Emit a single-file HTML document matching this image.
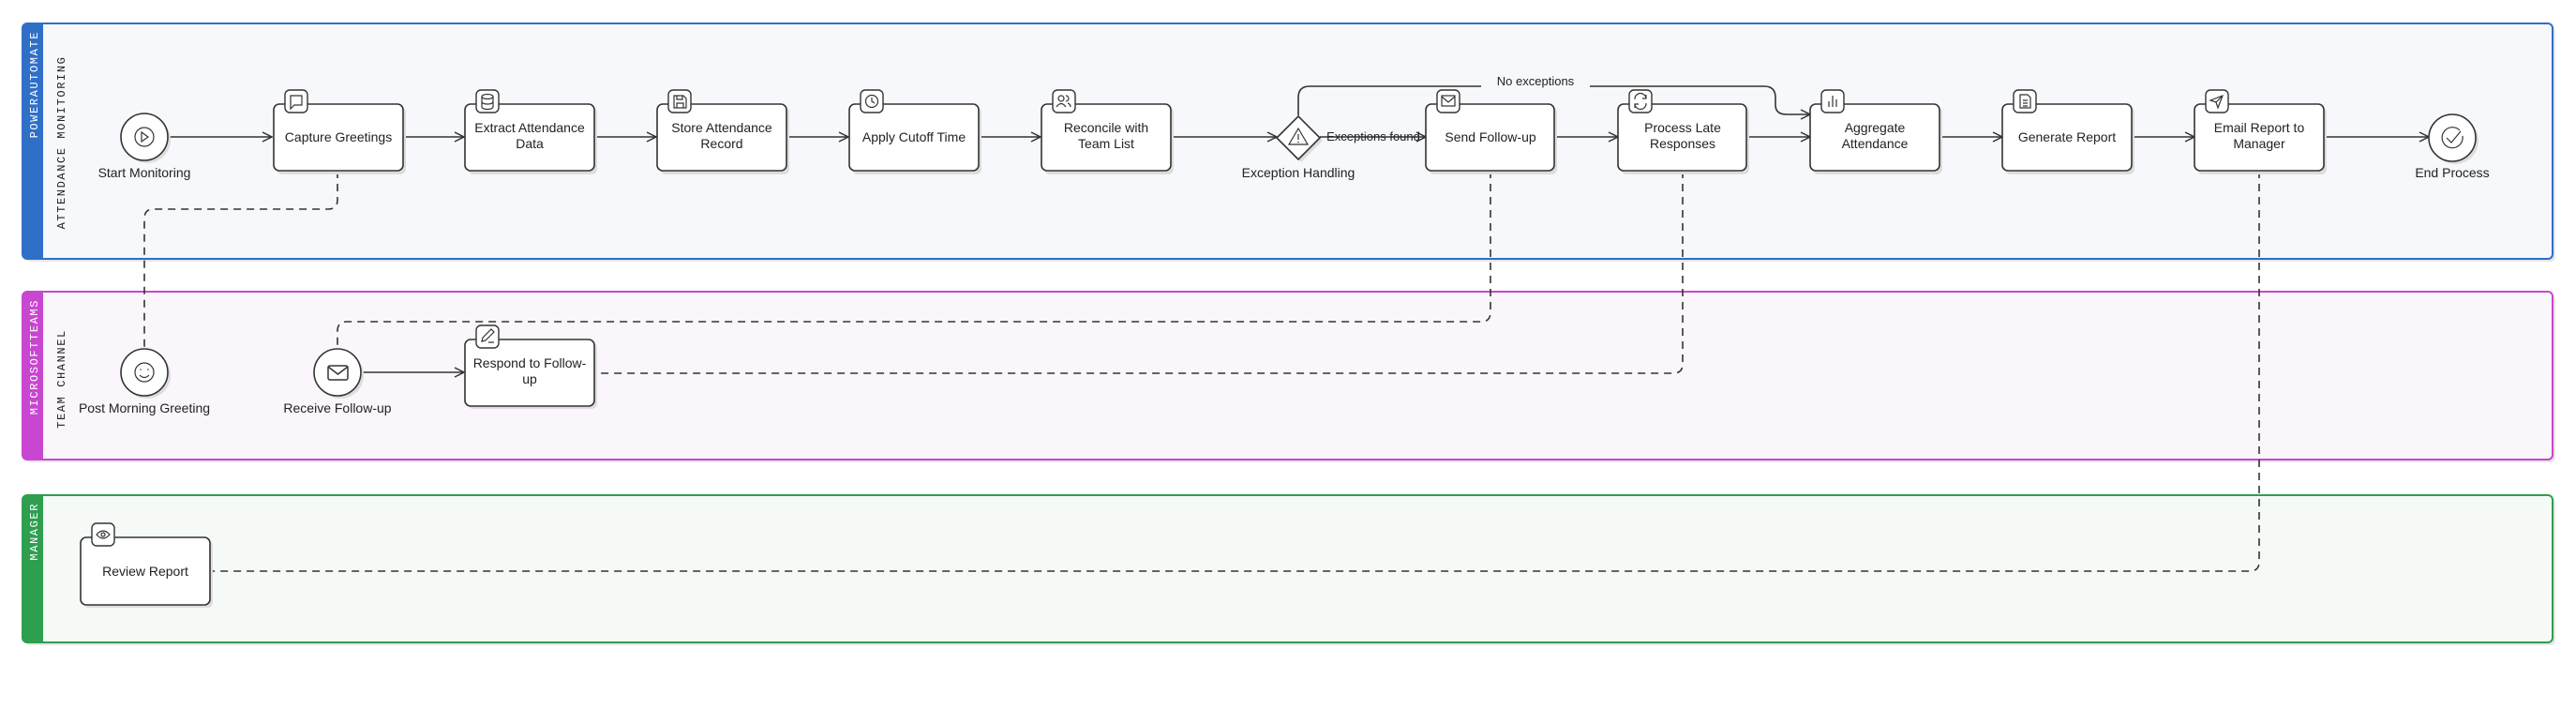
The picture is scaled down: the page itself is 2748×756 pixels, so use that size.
<!DOCTYPE html>
<html><head><meta charset="utf-8"><style>
html,body{margin:0;padding:0;background:#fff;}
svg{display:block;}
text{font-family:"Liberation Sans",sans-serif;fill:#222;}
.t{font-size:14px;text-anchor:middle;}
.lt{font-family:"Liberation Mono",monospace;font-size:12px;letter-spacing:1.6px;}
.box{fill:#fff;stroke:#333;stroke-width:1.6;}
.ic{fill:#fff;stroke:#333;stroke-width:1.4;}
.g{fill:none;stroke:#333;stroke-width:1.2;}
.fl{fill:none;stroke:#333;stroke-width:1.6;}
.ds{fill:none;stroke:#333;stroke-width:1.6;stroke-dasharray:8 6;}
</style></head><body>
<svg width="2748" height="756" viewBox="0 0 2748 756" xmlns="http://www.w3.org/2000/svg">
<defs>
<marker id="a" viewBox="0 0 12 12" refX="11" refY="6" markerWidth="12" markerHeight="12" markerUnits="userSpaceOnUse" orient="auto">
<path d="M1,1 L11,6 L1,11" fill="none" stroke="#333" stroke-width="1.5"/></marker>
</defs>

<!-- Lanes -->
<g>
<rect x="27" y="28" width="2699" height="251" rx="5" fill="#e6e6e6"/>
<rect x="24" y="25" width="2699" height="251" rx="5" fill="#f6f8fc" stroke="#2f6fc7" stroke-width="2"/>
<path d="M29,25 H46 V276 H29 Q24,276 24,271 V30 Q24,25 29,25Z" fill="#2f6fc7"/>
<text class="lt" transform="translate(40,33) rotate(-90)" text-anchor="end" style="fill:#fff">POWERAUTOMATE</text>
<text class="lt" transform="translate(69,152) rotate(-90)" text-anchor="middle">ATTENDANCE MONITORING</text>

<rect x="27" y="314" width="2699" height="179" rx="5" fill="#e6e6e6"/>
<rect x="24" y="311" width="2699" height="179" rx="5" fill="#faf6fc" stroke="#c846d0" stroke-width="2"/>
<path d="M29,311 H46 V490 H29 Q24,490 24,485 V316 Q24,311 29,311Z" fill="#c846d0"/>
<text class="lt" transform="translate(40,319) rotate(-90)" text-anchor="end" style="fill:#fff">MICROSOFTTEAMS</text>
<text class="lt" transform="translate(69,404) rotate(-90)" text-anchor="middle">TEAM CHANNEL</text>

<rect x="27" y="531" width="2699" height="157" rx="5" fill="#e6e6e6"/>
<rect x="24" y="528" width="2699" height="157" rx="5" fill="#f5faf7" stroke="#2e9e4f" stroke-width="2"/>
<path d="M29,528 H46 V685 H29 Q24,685 24,680 V533 Q24,528 29,528Z" fill="#2e9e4f"/>
<text class="lt" transform="translate(40,536) rotate(-90)" text-anchor="end" style="fill:#fff">MANAGER</text>
</g>

<!-- Sequence flows -->
<g class="fl">
<path d="M179,146 H290" marker-end="url(#a)"/>
<path d="M430,146 H495" marker-end="url(#a)"/>
<path d="M634,146 H700" marker-end="url(#a)"/>
<path d="M839,146 H905" marker-end="url(#a)"/>
<path d="M1044,146 H1110" marker-end="url(#a)"/>
<path d="M1249,146 H1362" marker-end="url(#a)"/>
<path d="M1408,146 H1521" marker-end="url(#a)"/>
<path d="M1658,146 H1726" marker-end="url(#a)"/>
<path d="M1863,146 H1931" marker-end="url(#a)"/>
<path d="M2069,146 H2136" marker-end="url(#a)"/>
<path d="M2274,146 H2341" marker-end="url(#a)"/>
<path d="M2479,146 H2591" marker-end="url(#a)"/>
<path d="M1385,123 V104 Q1385,92 1397,92 H1882 Q1894,92 1894,104 V112 Q1894,122 1906,122 H1931" marker-end="url(#a)"/>
<path d="M384,397 H495" marker-end="url(#a)"/>
</g>
<rect x="1580" y="78" width="116" height="16" fill="#f6f8fc"/>
<text x="1638" y="91" class="t" style="font-size:13px">No exceptions</text>
<text x="1465" y="150" class="t" style="font-size:13px">Exceptions found</text>

<!-- Message flows -->
<g class="ds">
<path d="M360,182 V213 Q360,223 350,223 H164 Q154,223 154,233 V372"/>
<path d="M1590,182 V333 Q1590,343 1580,343 H370 Q360,343 360,353 V372"/>
<path d="M1795,182 V388 Q1795,398 1785,398 H634"/>
<path d="M2410,182 V599 Q2410,609 2400,609 H225"/>
</g>

<!-- Events -->
<g>
<circle cx="157" cy="149" r="25" fill="#ddd"/>
<circle cx="154" cy="146" r="25" class="box"/>
<circle cx="154" cy="146" r="10" class="g"/><path d="M151,141 L158,146 L151,151Z" class="g"/>
<text x="154" y="189" class="t">Start Monitoring</text>

<circle cx="2619" cy="150" r="25" fill="#ddd"/>
<circle cx="2616" cy="147" r="25" class="box"/>
<path d="M2624,139 A11,11 0 1 0 2627,145" class="g"/><path d="M2610,147 L2615,152 L2625,140" class="g"/>
<text x="2616" y="189" class="t">End Process</text>

<circle cx="157" cy="400" r="25" fill="#ddd"/>
<circle cx="154" cy="397" r="25" class="box"/>
<circle cx="154" cy="397" r="10" class="g"/><circle cx="150" cy="394" r="0.8" fill="#333"/><circle cx="158" cy="394" r="0.8" fill="#333"/><path d="M149,400 Q154,405 159,400" class="g"/>
<text x="154" y="440" class="t">Post Morning Greeting</text>

<circle cx="363" cy="400" r="25" fill="#ddd"/>
<circle cx="360" cy="397" r="25" class="box"/>
<rect x="350" y="390" width="21" height="15" rx="2" class="g" style="stroke-width:1.5"/><path d="M350,391 L360.5,399 L371,391" class="g" style="stroke-width:1.5"/>
<text x="360" y="440" class="t">Receive Follow-up</text>

<!-- gateway -->
<path d="M1388,127 L1411,150 L1388,173 L1365,150Z" fill="#ddd"/>
<path d="M1385,124 L1408,147 L1385,170 L1362,147Z" class="box"/>
<path d="M1385,137 L1395,154 H1375Z" class="g"/><path d="M1385,143 V149" class="g"/><circle cx="1385" cy="151.5" r="0.8" fill="#333"/>
<text x="1385" y="189" class="t">Exception Handling</text>
</g>

<!-- Tasks -->
<g id="tasks">
<!-- generic: x,y,w=138,h=72 -->
<rect x="295" y="114" width="138" height="72" rx="6" fill="#ddd"/><rect x="292" y="111" width="138" height="71" rx="6" class="box"/>
<text x="361" y="151" class="t">Capture Greetings</text>
<rect x="304" y="96" width="24" height="24" rx="5" class="ic"/><path d="M310,102 H322 V112 H314 L310,116Z" class="g"/>

<rect x="499" y="114" width="138" height="72" rx="6" fill="#ddd"/><rect x="496" y="111" width="138" height="71" rx="6" class="box"/>
<text x="565" y="141" class="t">Extract Attendance</text><text x="565" y="158" class="t">Data</text>
<rect x="508" y="96" width="24" height="24" rx="5" class="ic"/><ellipse cx="520" cy="103" rx="6" ry="2.5" class="g"/><path d="M514,103 V114 A6,2.5 0 0 0 526,114 V103 M514,108.5 A6,2.5 0 0 0 526,108.5" class="g"/>

<rect x="704" y="114" width="138" height="72" rx="6" fill="#ddd"/><rect x="701" y="111" width="138" height="71" rx="6" class="box"/>
<text x="770" y="141" class="t">Store Attendance</text><text x="770" y="158" class="t">Record</text>
<rect x="713" y="96" width="24" height="24" rx="5" class="ic"/><path d="M719,102 H729 L732,105 V115 H719Z M722,102 V106 H728 V102 M722,115 V110 H729 V115" class="g"/>

<rect x="909" y="114" width="138" height="72" rx="6" fill="#ddd"/><rect x="906" y="111" width="138" height="71" rx="6" class="box"/>
<text x="975" y="151" class="t">Apply Cutoff Time</text>
<rect x="918" y="96" width="24" height="24" rx="5" class="ic"/><circle cx="930" cy="108" r="6.5" class="g"/><path d="M930,104 V108 L933,110" class="g"/>

<rect x="1114" y="114" width="138" height="72" rx="6" fill="#ddd"/><rect x="1111" y="111" width="138" height="71" rx="6" class="box"/>
<text x="1180" y="141" class="t">Reconcile with</text><text x="1180" y="158" class="t">Team List</text>
<rect x="1123" y="96" width="24" height="24" rx="5" class="ic"/><circle cx="1132" cy="105" r="3" class="g"/><path d="M1127,114 Q1132,107 1137,114 M1137,102 A3,3 0 0 1 1137,108 M1139,110 Q1142,111 1142,114" class="g"/>

<rect x="1524" y="114" width="137" height="72" rx="6" fill="#ddd"/><rect x="1521" y="111" width="137" height="71" rx="6" class="box"/>
<text x="1590" y="151" class="t">Send Follow-up</text>
<rect x="1533" y="96" width="24" height="24" rx="5" class="ic"/><rect x="1538" y="102" width="14" height="11" class="g"/><path d="M1538,103 L1545,109 L1552,103" class="g"/>

<rect x="1729" y="114" width="137" height="72" rx="6" fill="#ddd"/><rect x="1726" y="111" width="137" height="71" rx="6" class="box"/>
<text x="1795" y="141" class="t">Process Late</text><text x="1795" y="158" class="t">Responses</text>
<rect x="1738" y="96" width="24" height="24" rx="5" class="ic"/><path d="M1744,106 A6,6 0 0 1 1756,105 M1756,110 A6,6 0 0 1 1744,111 M1756,101 V105 H1752 M1744,115 V111 H1748" class="g"/>

<rect x="1934" y="114" width="138" height="72" rx="6" fill="#ddd"/><rect x="1931" y="111" width="138" height="71" rx="6" class="box"/>
<text x="2000" y="141" class="t">Aggregate</text><text x="2000" y="158" class="t">Attendance</text>
<rect x="1943" y="96" width="24" height="24" rx="5" class="ic"/><path d="M1951,114 V108 M1955,114 V102 M1959,114 V106" class="g"/>

<rect x="2139" y="114" width="138" height="72" rx="6" fill="#ddd"/><rect x="2136" y="111" width="138" height="71" rx="6" class="box"/>
<text x="2205" y="151" class="t">Generate Report</text>
<rect x="2148" y="96" width="24" height="24" rx="5" class="ic"/><path d="M2155,101 H2163 L2166,104 V115 H2155Z M2158,107 H2163 M2158,110 H2163 M2158,113 H2163" class="g"/>

<rect x="2344" y="114" width="138" height="72" rx="6" fill="#ddd"/><rect x="2341" y="111" width="138" height="71" rx="6" class="box"/>
<text x="2410" y="141" class="t">Email Report to</text><text x="2410" y="158" class="t">Manager</text>
<rect x="2353" y="96" width="24" height="24" rx="5" class="ic"/><path d="M2371,102 L2358,107 L2364,109 L2366,115Z M2364,109 L2371,102" class="g"/>

<rect x="499" y="365" width="138" height="71" rx="6" fill="#ddd"/><rect x="496" y="362" width="138" height="71" rx="6" class="box"/>
<text x="565" y="392" class="t">Respond to Follow-</text><text x="565" y="409" class="t">up</text>
<rect x="508" y="347" width="24" height="24" rx="5" class="ic"/><path d="M514,364 L515,360 L524,351 L527,354 L518,363Z M521,365 H527" class="g"/>

<rect x="89" y="576" width="138" height="72" rx="6" fill="#ddd"/><rect x="86" y="573" width="138" height="72" rx="6" class="box"/>
<text x="155" y="614" class="t">Review Report</text>
<rect x="98" y="558" width="24" height="24" rx="5" class="ic"/><path d="M103,570 Q110,562 117,570 Q110,578 103,570Z" class="g"/><circle cx="110" cy="570" r="2" class="g"/>
</g>
</svg>
</body></html>
